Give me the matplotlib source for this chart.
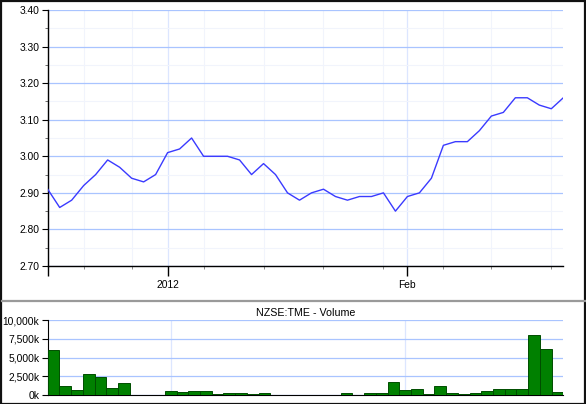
import matplotlib
matplotlib.use("Agg")
import matplotlib.pyplot as plt
from matplotlib.patches import Rectangle
from matplotlib.lines import Line2D
import numpy as np

plt.rcParams['font.family'] = ['Liberation Sans', 'DejaVu Sans']

# ---- data ----
price = [2.91, 2.86, 2.88, 2.92, 2.95, 2.99, 2.97, 2.94, 2.93, 2.95,
         3.01, 3.02, 3.05, 3.00, 3.00, 3.00, 2.99, 2.95, 2.98, 2.95,
         2.90, 2.88, 2.90, 2.91, 2.89, 2.88, 2.89, 2.89, 2.90, 2.85,
         2.89, 2.90, 2.94, 3.03, 3.04, 3.04, 3.07, 3.11, 3.12, 3.16,
         3.16, 3.14, 3.13, 3.16]
volume_k = [6000, 1200, 670, 2800, 2400, 930, 1600, 60, 60, 60,
            500, 400, 500, 500, 100, 280, 280, 100, 280, 60,
            60, 60, 60, 60, 60, 280, 60, 250, 220, 1700,
            620, 760, 100, 1200, 270, 70, 270, 530, 750, 750,
            750, 7960, 6090, 350]
major_tick_idx = [0, 10, 30]
major_tick_labels = ["", "2012", "Feb"]
minor_tick_idx = [3, 7, 13, 18, 23, 28, 33, 37, 42]
price_ticks = [2.70, 2.80, 2.90, 3.00, 3.10, 3.20, 3.30, 3.40]
vol_ticks = [0, 2500, 5000, 7500, 10000]
volume_title = "NZSE:TME - Volume"

x = np.arange(len(price))

W, H = 586, 404
fig = plt.figure(figsize=(W / 100, H / 100), dpi=100)

def box(l, t, r, b):
    return [l / W, 1 - b / H, (r - l) / W, (b - t) / H]

fs = 7.4
grid_major = "#a9c4ff"
grid_minor = "#f1f4fc"
grid_vmajor = "#dce6ff"

# ---- price panel ----
ax = fig.add_axes(box(47.7, 10, 563.3, 266))
ax.plot(x, price, color="#3a3aff", lw=1.0, zorder=3)
ax.set_xlim(0, len(price) - 1)
ax.set_ylim(price_ticks[0], price_ticks[-1])
ax.set_yticks(price_ticks)
ax.set_yticklabels([f"{v:.2f}" for v in price_ticks], fontsize=fs)
ax.set_yticks(np.arange(2.75, 3.40, 0.10), minor=True)
ax.set_xticks(major_tick_idx)
ax.set_xticklabels(major_tick_labels, fontsize=fs)
ax.set_xticks(minor_tick_idx, minor=True)
ax.tick_params(axis='y', which='major', length=4, width=0.8, pad=2, colors='black')
ax.tick_params(axis='y', which='minor', length=2, width=0.6, color='#555555')
ax.tick_params(axis='x', which='major', length=7, width=1.0, pad=3)
ax.tick_params(axis='x', which='minor', length=2, width=0.6, color='#777777')
ax.grid(True, axis='y', which='major', color=grid_major, lw=0.9, zorder=0)
ax.grid(True, axis='y', which='minor', color=grid_minor, lw=0.8, zorder=0)
ax.grid(True, axis='x', which='major', color=grid_vmajor, lw=0.9, zorder=0)
ax.grid(True, axis='x', which='minor', color=grid_minor, lw=0.8, zorder=0)
ax.set_axisbelow(True)
for s in ['top', 'right']:
    ax.spines[s].set_visible(False)
for s in ['left', 'bottom']:
    ax.spines[s].set_linewidth(1.0)

# ---- volume panel ----
av = fig.add_axes(box(47.7, 320, 563.3, 395))
av.bar(x, volume_k, width=1.0, color="#008000", edgecolor="#004d00", lw=0.7, zorder=3)
av.set_xlim(-0.5, len(price) - 0.5)
av.set_ylim(vol_ticks[0], vol_ticks[-1])
av.set_yticks(vol_ticks)
av.set_yticklabels([f"{v:,}k" for v in vol_ticks], fontsize=fs)
av.set_xticks([i for i, lab in zip(major_tick_idx, major_tick_labels) if lab])
av.set_xticklabels([])
av.tick_params(axis='x', length=0)
av.tick_params(axis='y', length=4, width=0.8, pad=2)
av.grid(True, axis='y', color=grid_major, lw=0.9, zorder=0)
av.grid(True, axis='x', color=grid_vmajor, lw=0.9, zorder=0)
av.set_axisbelow(True)
for s in ['top', 'right']:
    av.spines[s].set_visible(False)
av.set_title(volume_title, fontsize=fs + 0.3, pad=3)

# ---- frame ----
fig.patches.append(Rectangle((0.5 / W, 0.5 / H), (W - 1.5) / W, (H - 1.5) / H,
                             transform=fig.transFigure, fill=False,
                             edgecolor="#111111", lw=1.6))
fig.lines.append(Line2D([1.5 / W, (W - 1.5) / W], [1 - 300.8 / H, 1 - 300.8 / H],
                        transform=fig.transFigure, color="#9a9a9a", lw=1.6))

fig.savefig("out.png", dpi=100)
